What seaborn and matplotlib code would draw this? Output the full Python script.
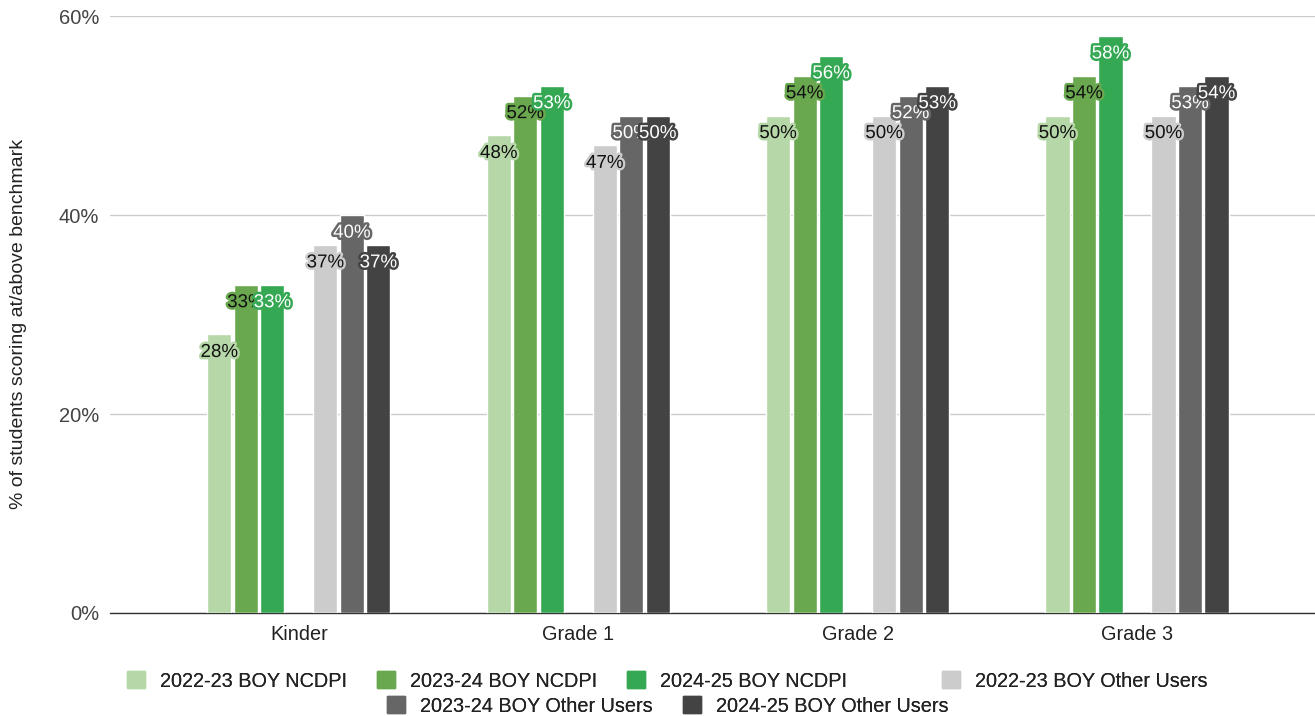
import pandas as pd
import seaborn as sns
import matplotlib.pyplot as plt
import matplotlib.patheffects as pe
from matplotlib.patches import Patch
from matplotlib.colors import to_hex

# Data
grades = ['Kinder', 'Grade 1', 'Grade 2', 'Grade 3']
series = ['2022-23 BOY NCDPI', '2023-24 BOY NCDPI', '2024-25 BOY NCDPI',
          '2022-23 BOY Other Users', '2023-24 BOY Other Users', '2024-25 BOY Other Users']
ncdpi_2223 = [28, 48, 50, 50]
ncdpi_2324 = [33, 52, 54, 54]
ncdpi_2425 = [33, 53, 56, 58]
other_2223 = [37, 47, 50, 50]
other_2324 = [40, 50, 52, 53]
other_2425 = [37, 50, 53, 54]
values = [ncdpi_2223, ncdpi_2324, ncdpi_2425, other_2223, other_2324, other_2425]

colors = ['#b6d7a8', '#6aa84f', '#34a853', '#cccccc', '#666666', '#434343']
text_colors = ['#111111', '#111111', '#ffffff', '#111111', '#ffffff', '#ffffff']

rows = []
for s, vals in zip(series, values):
    for g, v in zip(grades, vals):
        rows.append({'grade': g, 'series': s, 'value': v})
df = pd.DataFrame(rows)

# empty slot between the two groups of bars
spacer = ' '
hue_order = series[:3] + [spacer] + series[3:]
palette = dict(zip(series, colors))
palette[spacer] = '#ffffff'

sns.set_theme(style='white')
plt.rcParams['font.family'] = ['Liberation Sans', 'DejaVu Sans']

fig = plt.figure(figsize=(13.15, 7.16), dpi=100)
ax = fig.add_axes([110 / 1315, 1 - 613 / 716, 1 - 110 / 1315, (613 - 16) / 716])

sns.barplot(data=df, x='grade', y='value', hue='series', hue_order=hue_order,
            order=grades, palette=palette, saturation=1, width=0.664, gap=0.09,
            legend=False, ax=ax, zorder=3)

ax.set_ylim(0, 60)
ax.set_xlim(-0.676, 3.637)
ax.set_yticks([0, 20, 40, 60])
ax.set_yticklabels([f'{t}%' for t in [0, 20, 40, 60]])
ax.yaxis.grid(True, color='#cccccc', linewidth=1, zorder=0)
ax.set_axisbelow(True)
for side in ['left', 'right', 'top']:
    ax.spines[side].set_visible(False)
ax.spines['bottom'].set_color('#333333')
ax.spines['bottom'].set_linewidth(1)
ax.tick_params(axis='y', length=0, pad=8, labelsize=14.5, labelcolor='#444444')
ax.tick_params(axis='x', length=0, pad=9, labelsize=14.3, labelcolor='#222222')
ax.set_xlabel('')
ax.set_ylabel('% of students scoring at/above benchmark', fontsize=14,
              color='#222222')
ax.yaxis.set_label_coords(-0.069, 0.484)

# value labels sitting just under each bar top
lookup = {to_hex(c): tc for c, tc in zip(colors, text_colors)}
for bar in ax.patches:
    h = bar.get_height()
    key = to_hex(bar.get_facecolor())
    if key not in lookup or h <= 0:
        continue
    ax.annotate(f'{h:.0f}%', (bar.get_x() + bar.get_width() / 2, h),
                xytext=(0, -13), textcoords='offset points',
                ha='center', va='center', fontsize=13.5, color=lookup[key], zorder=5,
                path_effects=[pe.withStroke(linewidth=3.5, foreground=key)])

# legend entries, placed like the original two rows
legend_x = [127, 377, 627, 942, 387, 683]
legend_y = [681, 681, 681, 681, 706, 706]
for s, c, lx, ly in zip(series, colors, legend_x, legend_y):
    leg = fig.legend([Patch(facecolor=c, edgecolor=c)], [s], loc='center left',
                     bbox_to_anchor=(lx / 1315, 1 - ly / 716), frameon=False,
                     fontsize=14.3, handlelength=0.93, handleheight=0.93,
                     handletextpad=0.72, borderpad=0, borderaxespad=0)
    leg.get_texts()[0].set_color('#222222')
    fig.add_artist(leg)

fig.savefig('out.png', dpi=100)
